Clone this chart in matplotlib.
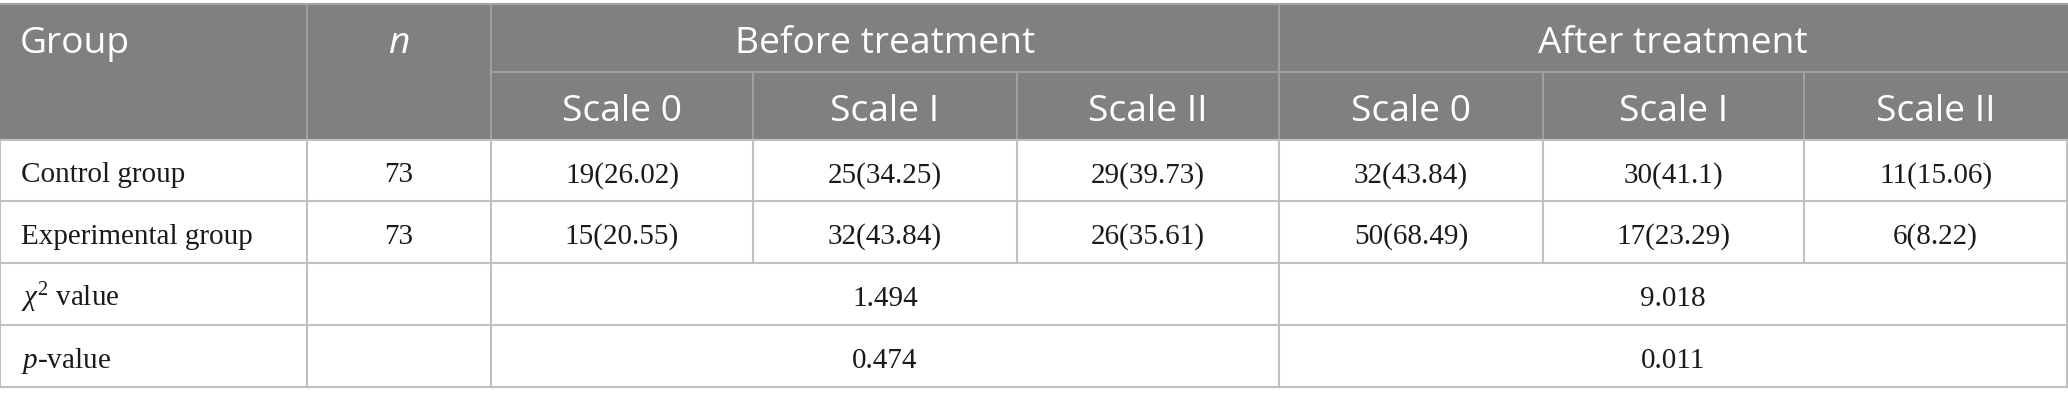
import matplotlib
matplotlib.use("Agg")
from matplotlib import pyplot as plt
from matplotlib.patches import Rectangle

# table contents
groups = ["Control group", "Experimental group"]
n_values = ["73", "73"]
periods = ["Before treatment", "After treatment"]
scales = ["Scale 0", "Scale I", "Scale II"]
before_vals = [["19(26.02)", "25(34.25)", "29(39.73)"],
               ["15(20.55)", "32(43.84)", "26(35.61)"]]
after_vals = [["32(43.84)", "30(41.1)", "11(15.06)"],
              ["50(68.49)", "17(23.29)", "6(8.22)"]]
stat_labels = [r"$\chi^{2}$ value", r"$p$-value"]
chi2_vals = ["1.494", "9.018"]
p_vals = ["0.474", "0.011"]

plt.rcParams["mathtext.fontset"] = "custom"
plt.rcParams["mathtext.rm"] = "Liberation Serif"
plt.rcParams["mathtext.it"] = "Liberation Serif:italic"

W, H = 2068, 406
fig = plt.figure(figsize=(W / 100, H / 100), dpi=100)
ax = fig.add_axes([0, 0, 1, 1])
ax.set_xlim(0, W)
ax.set_ylim(H, 0)
ax.axis("off")

# column edges and row edges (pixels)
xs = [0, 307, 491, 753, 1017, 1279, 1543, 1804, 2067]
ys = [5, 72.5, 141, 202, 264, 326, 388]

head_bg = "#808080"
head_line = "#a3a3a3"
body_line = "#c0c0c0"
txt = "#1a1a1a"
sans = "Open Sans"
serif = "Liberation Serif"
hs = 26.7
bs = 21

ax.add_patch(Rectangle((0, ys[0]), W, ys[2] - ys[0], color=head_bg, lw=0))

# header lines
ax.plot([xs[1], xs[1]], [ys[0], ys[2]], color=head_line, lw=1.3)
ax.plot([xs[2], xs[2]], [ys[0], ys[2]], color=head_line, lw=1.3)
ax.plot([xs[5], xs[5]], [ys[0], ys[2]], color=head_line, lw=1.3)
ax.plot([xs[2], W], [ys[1], ys[1]], color=head_line, lw=1.3)
for i in [3, 4, 6, 7]:
    ax.plot([xs[i], xs[i]], [ys[1], ys[2]], color=head_line, lw=1.3)
ax.plot([0, W], [ys[0], ys[0]], color=head_line, lw=1.5)

# body lines
for y in ys[2:]:
    ax.plot([0, W], [y, y], color=body_line, lw=1.5)
for i in [0, 1, 2, 5, 8]:
    ax.plot([xs[i], xs[i]], [ys[2], ys[6]], color=body_line, lw=1.5)
for i in [3, 4, 6, 7]:
    ax.plot([xs[i], xs[i]], [ys[2], ys[4]], color=body_line, lw=1.5)

# baselines
hb1 = (ys[0] + ys[1]) / 2 + 14
hb2 = (ys[1] + ys[2]) / 2 + 14

# header text
ax.text(20, hb1, "Group", color="white", fontsize=hs,
        family=sans, ha="left", va="baseline")
ax.text((xs[1] + xs[2]) / 2, hb1, "n", color="white",
        fontsize=hs, family=sans, style="italic", ha="center", va="baseline")
for k, per in enumerate(periods):
    x0, x1 = xs[2 + 3 * k], xs[5 + 3 * k]
    ax.text((x0 + x1) / 2, hb1, per, color="white",
            fontsize=hs, family=sans, ha="center", va="baseline")
    for j, sc in enumerate(scales):
        cx = (xs[2 + 3 * k + j] + xs[3 + 3 * k + j]) / 2
        ax.text(cx, hb2, sc, color="white", fontsize=hs,
                family=sans, ha="center", va="baseline")

# body text
for r in range(2):
    cy = (ys[2 + r] + ys[3 + r]) / 2 + 11
    ax.text(21, cy, groups[r], fontsize=bs, family=serif, ha="left",
            va="baseline", color=txt)
    ax.text((xs[1] + xs[2]) / 2, cy, n_values[r], fontsize=bs, family=serif,
            ha="center", va="baseline", color=txt)
    row = before_vals[r] + after_vals[r]
    for j, v in enumerate(row):
        cx = (xs[2 + j] + xs[3 + j]) / 2
        ax.text(cx, cy, v, fontsize=bs, family=serif, ha="center",
                va="baseline", color=txt)

for r, vals in enumerate([chi2_vals, p_vals]):
    cy = (ys[4 + r] + ys[5 + r]) / 2 + 11
    ax.text(21, cy, stat_labels[r], fontsize=bs, family=serif, ha="left",
            va="baseline", color=txt)
    for k, v in enumerate(vals):
        cx = (xs[2 + 3 * k] + xs[5 + 3 * k]) / 2
        ax.text(cx, cy, v, fontsize=bs, family=serif, ha="center",
                va="baseline", color=txt)

fig.savefig("out.png", dpi=100)
